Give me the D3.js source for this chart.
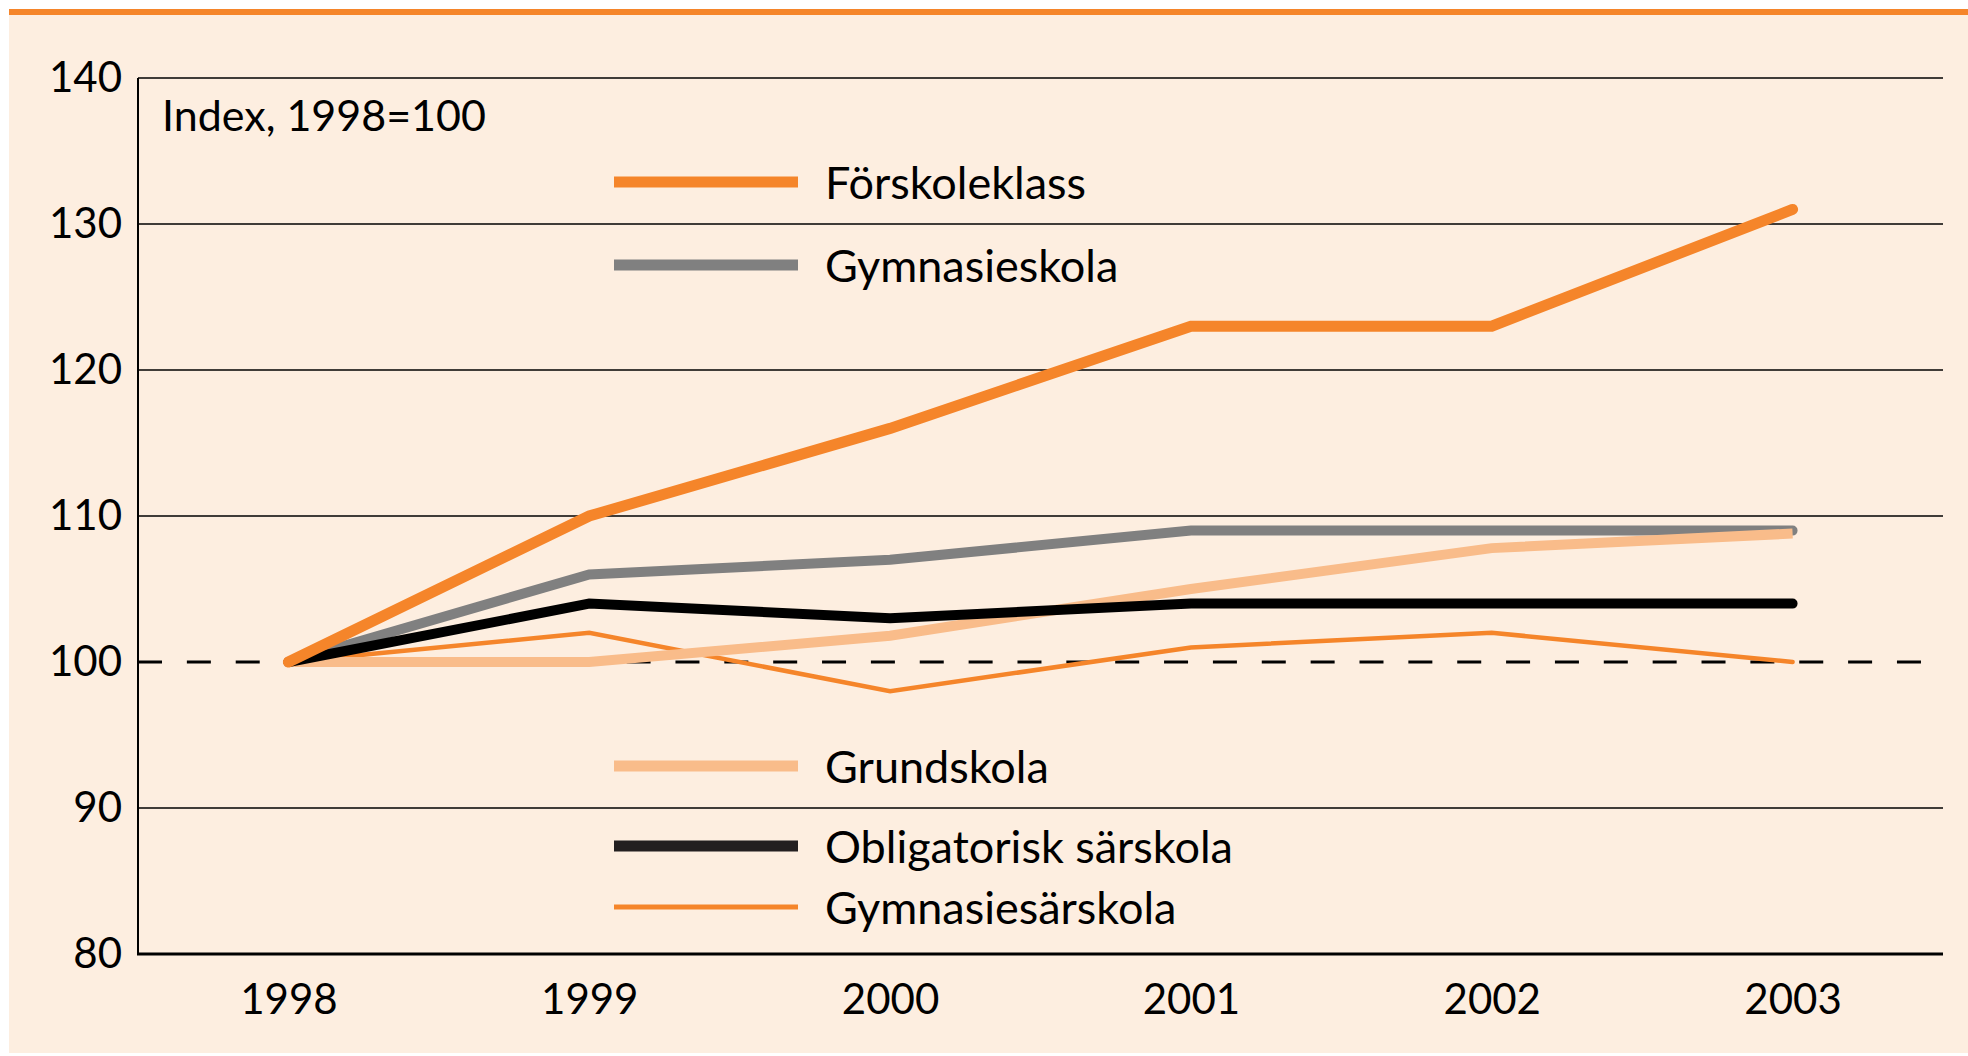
<!doctype html>
<html>
  <head>
    <meta charset="utf-8">
    <title>Index 1998=100</title>
    <script src="https://cdnjs.cloudflare.com/ajax/libs/d3/7.8.5/d3.min.js"></script>
    <style>
      html, body { margin: 0; padding: 0; background: #fff; }
      svg { display: block; }
      text { font-family: Lato, "Open Sans", sans-serif; fill: #000; }
    </style>
  </head>
  <body>
    <div id="chart"></div>
    <script>
      // data
      const years = ['1998', '1999', '2000', '2001', '2002', '2003'];
      const yTicks = [80, 90, 100, 110, 120, 130, 140];

      const forskoleklass    = [100, 110, 116, 123, 123, 131];
      const gymnasieskola    = [100, 106, 107, 109, 109, 109];
      const grundskola       = [100, 100, 101.8, 105, 107.8, 108.8];
      const obligatorisk     = [100, 104, 103, 104, 104, 104];
      const gymnasiesarskola = [100, 102, 98, 101, 102, 100];

      // draw order = bottom to top
      const series = [
        { name: 'Gymnasiesärskola', values: gymnasiesarskola, color: '#f5852a', width: 4.5, cap: 'round' },
        { name: 'Gymnasieskola', values: gymnasieskola, color: '#808080', width: 10, cap: 'round' },
        { name: 'Grundskola', values: grundskola, color: '#f9bc8a', width: 10, cap: 'butt' },
        { name: 'Obligatorisk särskola', values: obligatorisk, color: '#000000', width: 10, cap: 'round' },
        { name: 'Förskoleklass', values: forskoleklass, color: '#f5852a', width: 11, cap: 'round' }
      ];

      // legend: order and vertical slot (px)
      const legend = [
        { name: 'Förskoleklass', color: '#f5852a', width: 11, y: 182 },
        { name: 'Gymnasieskola', color: '#808080', width: 11, y: 265 },
        { name: 'Grundskola', color: '#f9bc8a', width: 11, y: 766 },
        { name: 'Obligatorisk särskola', color: '#231f20', width: 11, y: 846 },
        { name: 'Gymnasiesärskola', color: '#f5852a', width: 5, y: 907 }
      ];

      const W = 1968, H = 1056;
      const mLeft = 138, mRight = 1943, mTop = 78, mBottom = 954;

      const svg = d3.select('#chart').append('svg')
        .attr('width', W)
        .attr('height', H);

      // background panel + top rule
      svg.append('rect')
        .attr('x', 9).attr('y', 14)
        .attr('width', W - 9).attr('height', 1039)
        .attr('fill', '#fdeee0');
      svg.append('rect')
        .attr('x', 9).attr('y', 9)
        .attr('width', W - 9).attr('height', 6)
        .attr('fill', '#f5852a');

      const x = d3.scalePoint().domain(years).range([mLeft, mRight]).padding(0.5);
      const y = d3.scaleLinear().domain([80, 140]).range([mBottom, mTop]);

      // gridlines (except 80 and 100)
      svg.append('g')
        .selectAll('line')
        .data(yTicks.filter(d => d !== 80 && d !== 100))
        .join('line')
        .attr('x1', mLeft).attr('x2', mRight)
        .attr('y1', d => y(d)).attr('y2', d => y(d))
        .attr('stroke', '#000')
        .attr('stroke-width', 1.5);

      // dashed 100 reference line
      svg.append('line')
        .attr('x1', mLeft).attr('x2', mRight)
        .attr('y1', y(100)).attr('y2', y(100))
        .attr('stroke', '#000')
        .attr('stroke-width', 3)
        .attr('stroke-dasharray', '24,24.86');

      // y axis labels
      const yAxis = d3.axisLeft(y).tickValues(yTicks).tickSize(0).tickPadding(16);
      const gy = svg.append('g')
        .attr('transform', `translate(${mLeft},0)`)
        .call(yAxis);
      gy.select('.domain').remove();
      gy.selectAll('text')
        .attr('font-size', 42)
        .attr('font-family', 'Lato, sans-serif');

      // x axis labels
      const xAxis = d3.axisBottom(x).tickSize(0).tickPadding(30);
      const gx = svg.append('g')
        .attr('transform', `translate(0,${mBottom})`)
        .call(xAxis);
      gx.select('.domain').remove();
      gx.selectAll('text')
        .attr('font-size', 42)
        .attr('font-family', 'Lato, sans-serif');

      // axis lines
      svg.append('line')
        .attr('x1', mLeft).attr('x2', mLeft)
        .attr('y1', mTop).attr('y2', mBottom)
        .attr('stroke', '#000').attr('stroke-width', 2);
      svg.append('line')
        .attr('x1', mLeft - 1).attr('x2', mRight)
        .attr('y1', mBottom).attr('y2', mBottom)
        .attr('stroke', '#000').attr('stroke-width', 3);

      // series lines
      const line = d3.line()
        .x((d, i) => x(years[i]))
        .y(d => y(d));

      svg.append('g')
        .selectAll('path')
        .data(series)
        .join('path')
        .attr('d', d => line(d.values))
        .attr('fill', 'none')
        .attr('stroke', d => d.color)
        .attr('stroke-width', d => d.width)
        .attr('stroke-linecap', d => d.cap)
        .attr('stroke-linejoin', 'miter');

      // index note
      svg.append('text')
        .attr('x', 162).attr('y', 114)
        .attr('dominant-baseline', 'central')
        .attr('font-size', 43)
        .text('Index, 1998=100');

      // legend
      const lg = svg.append('g')
        .selectAll('g')
        .data(legend)
        .join('g')
        .attr('transform', d => `translate(614,${d.y})`);
      lg.append('line')
        .attr('x1', 0).attr('x2', 184)
        .attr('stroke', d => d.color)
        .attr('stroke-width', d => d.width);
      lg.append('text')
        .attr('x', 211)
        .attr('dominant-baseline', 'central')
        .attr('font-size', 45)
        .text(d => d.name);
    </script>
  </body>
</html>
